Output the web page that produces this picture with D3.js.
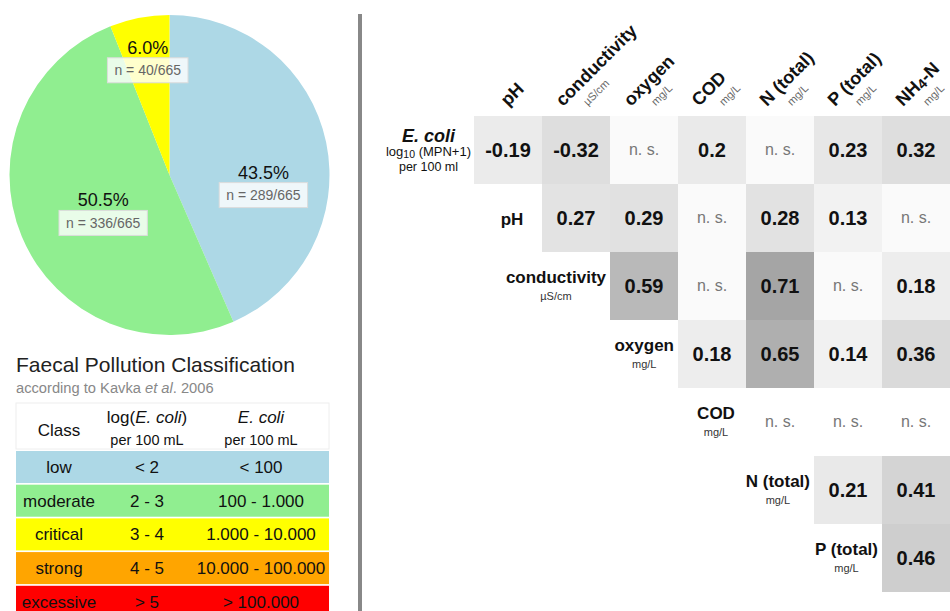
<!DOCTYPE html>
<html>
<head>
<meta charset="utf-8">
<title>Faecal pollution and water quality</title>
<script src="https://cdn.jsdelivr.net/npm/d3@7"></script>
<style>
  body { margin: 0; background: #fff; }
  svg { display: block; font-family: "Liberation Sans", Arial, Helvetica, sans-serif; }
</style>
</head>
<body>
<div id="chart"></div>
<script>
// pie: samples per pollution class
var pieClasses = ["low", "moderate", "critical"];
var pieCounts = [289, 336, 40];
var pieTotal = 665;

// classification table (Kavka et al. 2006)
var tableClasses = ["low", "moderate", "critical", "strong", "excessive"];
var tableLog = ["< 2", "2 - 3", "3 - 4", "4 - 5", "> 5"];
var tableCount = ["< 100", "100 - 1.000", "1.000 - 10.000", "10.000 - 100.000", "> 100.000"];

// correlation matrix ("n. s." = not significant, null = no cell)
var colVars = ["pH", "conductivity", "oxygen", "COD", "N (total)", "P (total)", "NH4-N"];
var colUnits = ["", "µS/cm", "mg/L", "mg/L", "mg/L", "mg/L", "mg/L"];
var rowVars = ["E. coli", "pH", "conductivity", "oxygen", "COD", "N (total)", "P (total)"];
var rowUnits = ["", "", "µS/cm", "mg/L", "mg/L", "mg/L", "mg/L"];
var rEcoli  = [-0.19, -0.32, "n. s.", 0.2, "n. s.", 0.23, 0.32];
var rPH     = [null, 0.27, 0.29, "n. s.", 0.28, 0.13, "n. s."];
var rCond   = [null, null, 0.59, "n. s.", 0.71, "n. s.", 0.18];
var rOxygen = [null, null, null, 0.18, 0.65, 0.14, 0.36];
var rCOD    = [null, null, null, null, "n. s.", "n. s.", "n. s."];
var rN      = [null, null, null, null, null, 0.21, 0.41];
var rP      = [null, null, null, null, null, null, 0.46];
var corrRows = [rEcoli, rPH, rCond, rOxygen, rCOD, rN, rP];

var W = 950, H = 611;
var svg = d3.select("#chart").append("svg")
    .attr("width", W)
    .attr("height", H);

var classColor = d3.scaleOrdinal()
    .domain(tableClasses)
    .range(["#add8e6", "#90ee90", "#ffff00", "#ffa500", "#ff0000"]);

// ---------- pie ----------
var R = 160;
var pieG = svg.append("g").attr("transform", "translate(169.5,175)");
var pie = d3.pie().sort(null).value(function (d) { return d.n; });
var pieData = pie(pieClasses.map(function (c, i) { return {cls: c, n: pieCounts[i]}; }));
var arc = d3.arc().innerRadius(0).outerRadius(R);

pieG.selectAll("path.slice")
  .data(pieData)
  .join("path")
    .attr("class", "slice")
    .attr("d", arc)
    .attr("fill", function (d) { return classColor(d.data.cls); });

// labels sit roughly on a ring, nudged like the original
var labelArc = d3.arc().innerRadius(100).outerRadius(100);
var labelNudge = [[-4, 26], [26, -5], [-3, -21]];
var pct = d3.format(".1%");

pieData.forEach(function (d, i) {
  var c = labelArc.centroid(d);
  var g = pieG.append("g")
      .attr("transform", "translate(" + (c[0] + labelNudge[i][0]) + "," + (c[1] + labelNudge[i][1]) + ")");
  g.append("text")
      .attr("y", -2)
      .attr("text-anchor", "middle")
      .style("font-size", "18px")
      .attr("fill", "#111")
      .text(pct(d.data.n / pieTotal));
  var box = g.append("rect");
  var t = g.append("text")
      .attr("y", 19.5)
      .attr("text-anchor", "middle")
      .style("font-size", "14px")
      .attr("fill", "#666")
      .text("n = " + d.data.n + "/" + pieTotal);
  var w = t.node().getComputedTextLength();
  box.attr("x", -w / 2 - 7).attr("y", 2)
     .attr("width", w + 14).attr("height", 25)
     .attr("fill", "rgba(255,255,255,0.8)")
     .attr("stroke", "#dcdcdc");
});

// ---------- title + table ----------
svg.append("text")
    .attr("x", 16).attr("y", 372)
    .style("font-size", "21px")
    .attr("fill", "#222")
    .text("Faecal Pollution Classification");

var sub = svg.append("text")
    .attr("x", 16).attr("y", 393)
    .style("font-size", "14.7px")
    .attr("fill", "#888");
sub.append("tspan").text("according to Kavka ");
sub.append("tspan").style("font-style", "italic").text("et al");
sub.append("tspan").text(". 2006");

var tLeft = 16, tRight = 329;
var tcol = d3.scaleOrdinal().domain(["class", "log", "count"]).range([59, 147, 261]);
var trow = d3.scaleBand().domain(tableClasses).range([451, 617.8]).paddingInner(0.05);

svg.append("rect")
    .attr("x", tLeft).attr("y", 403)
    .attr("width", tRight - tLeft).attr("height", 46)
    .attr("fill", "#fff")
    .attr("stroke", "#eee");

svg.append("text")
    .attr("x", tcol("class")).attr("y", 436)
    .attr("text-anchor", "middle")
    .style("font-size", "17px").attr("fill", "#111")
    .text("Class");

var h1 = svg.append("text")
    .attr("x", tcol("log")).attr("y", 423)
    .attr("text-anchor", "middle")
    .style("font-size", "17px").attr("fill", "#111");
h1.append("tspan").text("log(");
h1.append("tspan").style("font-style", "italic").text("E. coli");
h1.append("tspan").text(")");

svg.append("text")
    .attr("x", tcol("count")).attr("y", 423)
    .attr("text-anchor", "middle")
    .style("font-size", "17px").style("font-style", "italic").attr("fill", "#111")
    .text("E. coli");

["log", "count"].forEach(function (k) {
  svg.append("text")
      .attr("x", tcol(k)).attr("y", 445)
      .attr("text-anchor", "middle")
      .style("font-size", "14.5px").attr("fill", "#111")
      .text("per 100 mL");
});

var rowsG = svg.append("g").selectAll("g")
  .data(tableClasses.map(function (c, i) { return {cls: c, log: tableLog[i], count: tableCount[i]}; }))
  .join("g")
    .attr("transform", function (d) { return "translate(0," + trow(d.cls) + ")"; });

rowsG.append("rect")
    .attr("x", tLeft)
    .attr("width", tRight - tLeft)
    .attr("height", trow.bandwidth())
    .attr("fill", function (d) { return classColor(d.cls); });

["class", "log", "count"].forEach(function (k) {
  rowsG.append("text")
      .attr("x", tcol(k))
      .attr("y", trow.bandwidth() / 2 + 6)
      .attr("text-anchor", "middle")
      .style("font-size", "17px")
      .attr("fill", "#111")
      .text(function (d) { return k === "class" ? d.cls : d[k]; });
});

// divider
svg.append("rect")
    .attr("x", 358).attr("y", 14)
    .attr("width", 4).attr("height", H - 14)
    .attr("fill", "#888");

// ---------- correlation matrix ----------
var x = d3.scaleBand().domain(colVars).range([474, 950]);
var y = d3.scaleBand().domain(rowVars).range([116, 592]);
var grey = d3.scaleLinear().domain([0.1, 0.45, 0.72]).range(["#f5f5f5", "#d0d0d0", "#a3a3a3"]).clamp(true);

var cells = [];
corrRows.forEach(function (row, i) {
  row.forEach(function (v, j) {
    if (v !== null) cells.push({row: rowVars[i], col: colVars[j], v: v});
  });
});

var cellG = svg.append("g").selectAll("g")
  .data(cells)
  .join("g")
    .attr("transform", function (d) { return "translate(" + x(d.col) + "," + y(d.row) + ")"; });

cellG.append("rect")
    .attr("width", x.bandwidth())
    .attr("height", y.bandwidth())
    .attr("fill", function (d) {
      if (typeof d.v === "string") return d.row === "COD" ? "#fff" : "#fafafa";
      return grey(Math.abs(d.v));
    });

cellG.append("text")
    .attr("x", x.bandwidth() / 2)
    .attr("y", function (d) { return y.bandwidth() / 2 + (typeof d.v === "string" ? 5 : 7); })
    .attr("text-anchor", "middle")
    .style("font-size", function (d) { return typeof d.v === "string" ? "16px" : "20px"; })
    .style("font-weight", function (d) { return typeof d.v === "string" ? "normal" : "bold"; })
    .attr("fill", function (d) { return typeof d.v === "string" ? "#777" : "#111"; })
    .text(function (d) { return String(d.v); });

// column headers, rotated
colVars.forEach(function (c, j) {
  var off = colUnits[j] ? -13 : 0;
  var g = svg.append("g")
      .attr("transform", "translate(" + (x(c) + x.bandwidth() / 2 + off) + ",107) rotate(-45)");
  var t = g.append("text")
      .style("font-size", "18px").style("font-weight", "bold")
      .attr("fill", "#111");
  if (c === "NH4-N") {
    t.append("tspan").text("NH");
    t.append("tspan").style("font-size", "14px").attr("dy", 2).text("4");
    t.append("tspan").attr("dy", -2).text("-N");
  } else {
    t.text(c);
  }
  if (colUnits[j]) {
    g.append("text")
        .attr("x", 18).attr("y", 17)
        .style("font-size", "11px")
        .attr("fill", "#666")
        .text(colUnits[j]);
  }
});

// row labels
rowVars.forEach(function (r, i) {
  var left = x(colVars[i]);
  var cy = y(r) + y.bandwidth() / 2;
  var g = svg.append("g");
  if (i === 0) {
    var a = g.append("text").attr("y", cy - 8.5)
        .attr("text-anchor", "middle")
        .style("font-size", "18px").style("font-weight", "bold").style("font-style", "italic")
        .attr("fill", "#111").text(r);
    var b = g.append("text").attr("y", cy + 6)
        .attr("text-anchor", "middle")
        .style("font-size", "13px").attr("fill", "#111");
    b.append("tspan").text("log");
    b.append("tspan").style("font-size", "10.5px").attr("dy", 2).text("10");
    b.append("tspan").attr("dy", -2).text(" (MPN+1)");
    var c2 = g.append("text").attr("y", cy + 20.5)
        .attr("text-anchor", "middle")
        .style("font-size", "12.5px").attr("fill", "#111")
        .text("per 100 ml");
    var bw0 = Math.max(a.node().getComputedTextLength(), b.node().getComputedTextLength(), c2.node().getComputedTextLength());
    g.attr("transform", "translate(" + (left - 3 - bw0 / 2) + ",0)");
    return;
  }
  var hasUnit = !!rowUnits[i];
  var m = g.append("text")
      .attr("y", hasUnit ? cy - 3 : cy + 7)
      .attr("text-anchor", "middle")
      .style("font-size", "17px").style("font-weight", "bold")
      .attr("fill", "#111").text(r);
  var bw = m.node().getComputedTextLength();
  if (hasUnit) {
    var u = g.append("text")
        .attr("y", cy + 14)
        .attr("text-anchor", "middle")
        .style("font-size", "11px")
        .attr("fill", "#333").text(rowUnits[i]);
    bw = Math.max(bw, u.node().getComputedTextLength());
  }
  bw = Math.max(bw, 52);
  g.attr("transform", "translate(" + (left - 4 - bw / 2) + ",0)");
});
</script>
</body>
</html>
